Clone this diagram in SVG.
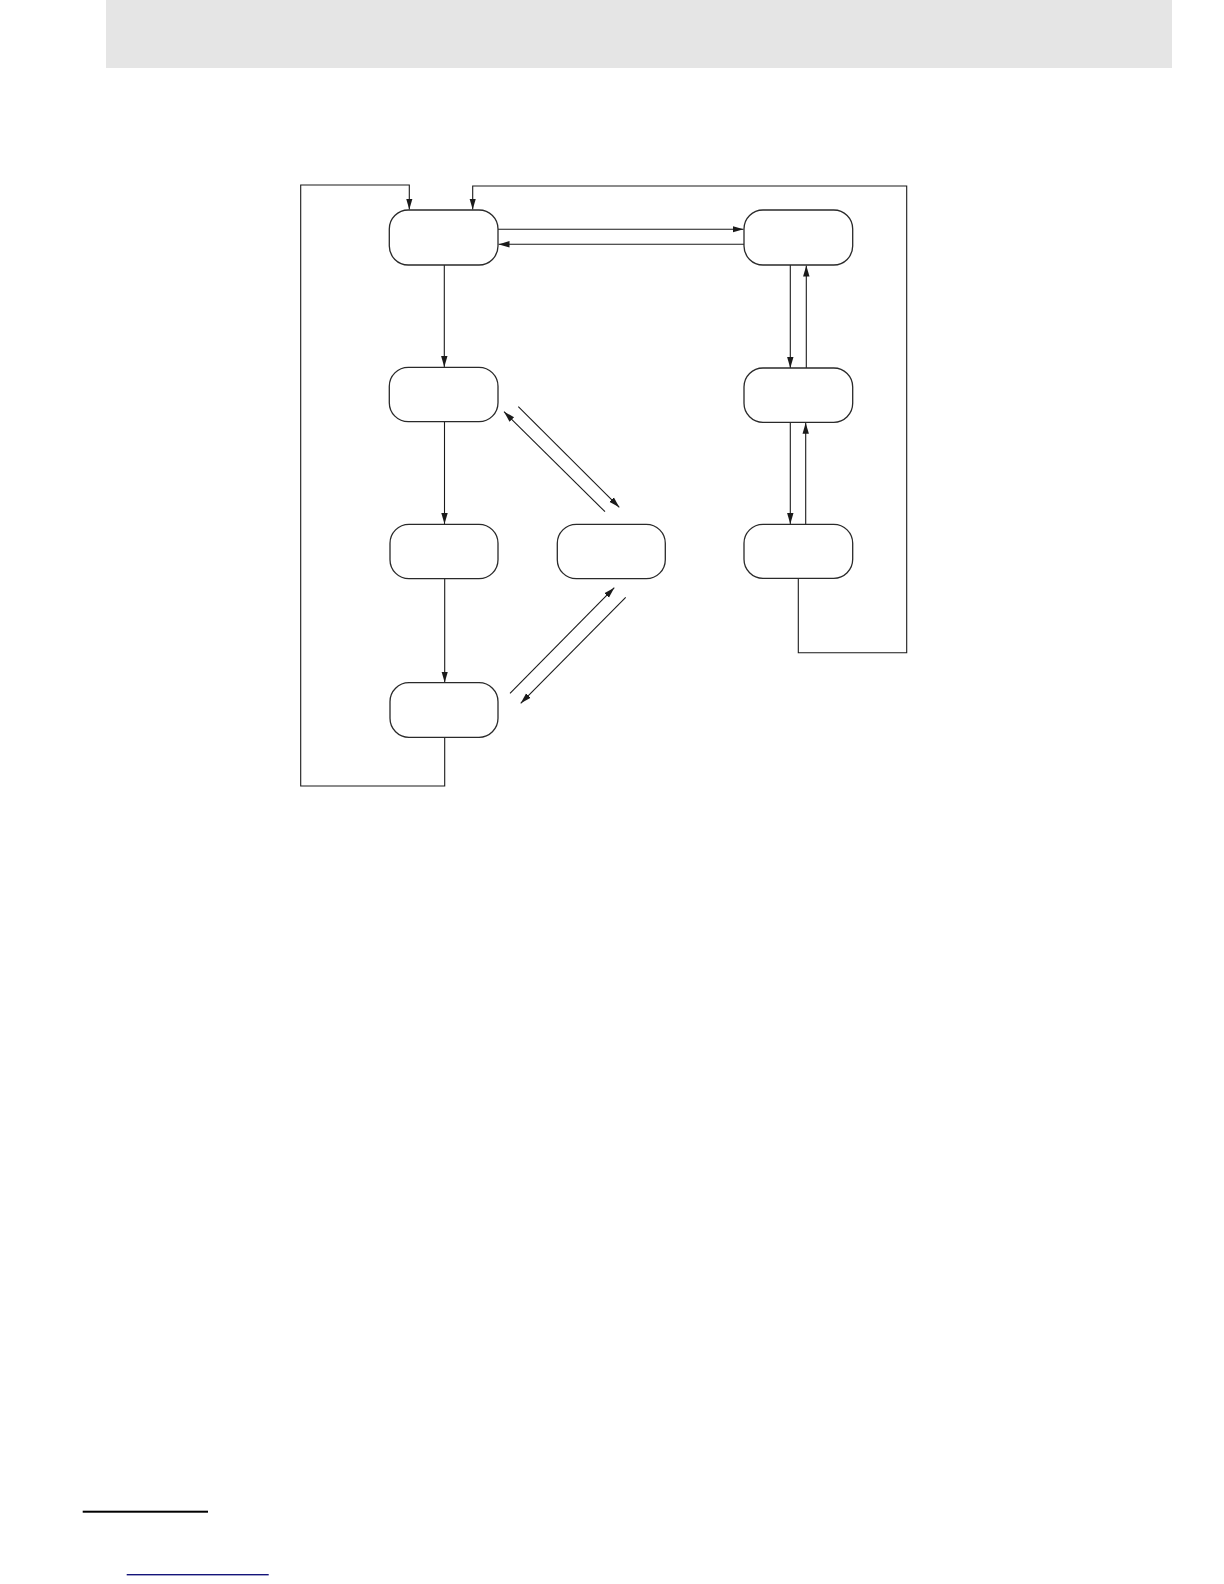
<svg xmlns="http://www.w3.org/2000/svg" width="1224" height="1584" viewBox="0 0 1224 1584">
<style>
.node{fill:#ffffff;stroke:#2a2a2a;stroke-width:1.3}
.conn{fill:none;stroke:#1a1a1a;stroke-width:1.1}
</style>
<defs>
<marker id="ah" markerUnits="userSpaceOnUse" markerWidth="11" markerHeight="8" refX="11" refY="4" orient="auto">
<path d="M0,0.8 L11,4 L0,7.2 z" fill="#1a1a1a"/>
</marker>
</defs>
<rect x="0" y="0" width="1224" height="1584" fill="#ffffff"/>
<rect id="banner" x="106" y="0" width="1066" height="68" fill="#e5e5e5"/>
<g id="connectors">
<path class="conn" d="M444.7,737.3 V786 H300.7 V185 H409.3 V209.5" marker-end="url(#ah)"/>
<path class="conn" d="M798.3,578.3 V652.7 H906.7 V186 H472.7 V209.5" marker-end="url(#ah)"/>
<path class="conn" d="M498,229.3 H743.5" marker-end="url(#ah)"/>
<path class="conn" d="M744,244.3 H498.5" marker-end="url(#ah)"/>
<path class="conn" d="M444.3,265 V367" marker-end="url(#ah)"/>
<path class="conn" d="M444.5,421.7 V524" marker-end="url(#ah)"/>
<path class="conn" d="M444.7,578.7 V682.5" marker-end="url(#ah)"/>
<path class="conn" d="M790.3,265 V368" marker-end="url(#ah)"/>
<path class="conn" d="M806.3,368 V265.5" marker-end="url(#ah)"/>
<path class="conn" d="M790.3,422.3 V524" marker-end="url(#ah)"/>
<path class="conn" d="M805.7,524.3 V422.8" marker-end="url(#ah)"/>
<path class="conn" d="M605,511.7 L504,411.7" marker-end="url(#ah)"/>
<path class="conn" d="M518.3,406.7 L619.3,507.3" marker-end="url(#ah)"/>
<path class="conn" d="M510,693.3 L614.3,587.7" marker-end="url(#ah)"/>
<path class="conn" d="M625.7,597.3 L520.7,703.3" marker-end="url(#ah)"/>
</g>
<g id="n1"><rect class="node" x="389.3" y="210" width="108.7" height="55" rx="19"/></g>
<g id="n2"><rect class="node" x="389.3" y="367.3" width="108.7" height="54.4" rx="19"/></g>
<g id="n3"><rect class="node" x="390" y="524.3" width="108" height="54.4" rx="19"/></g>
<g id="n4"><rect class="node" x="390" y="682.7" width="108" height="54.6" rx="19"/></g>
<g id="n5"><rect class="node" x="557.3" y="524.3" width="108" height="54.4" rx="19"/></g>
<g id="r1"><rect class="node" x="744" y="210" width="108.7" height="55" rx="19"/></g>
<g id="r2"><rect class="node" x="744" y="368" width="108.7" height="54.3" rx="19"/></g>
<g id="r3"><rect class="node" x="744" y="524.3" width="108.7" height="54" rx="19"/></g>
<g id="footer">
<rect x="82.7" y="1510.7" width="125.3" height="2" fill="#000000"/>
<rect x="126.7" y="1574" width="142" height="1.4" fill="#14147a"/>
</g>
</svg>
